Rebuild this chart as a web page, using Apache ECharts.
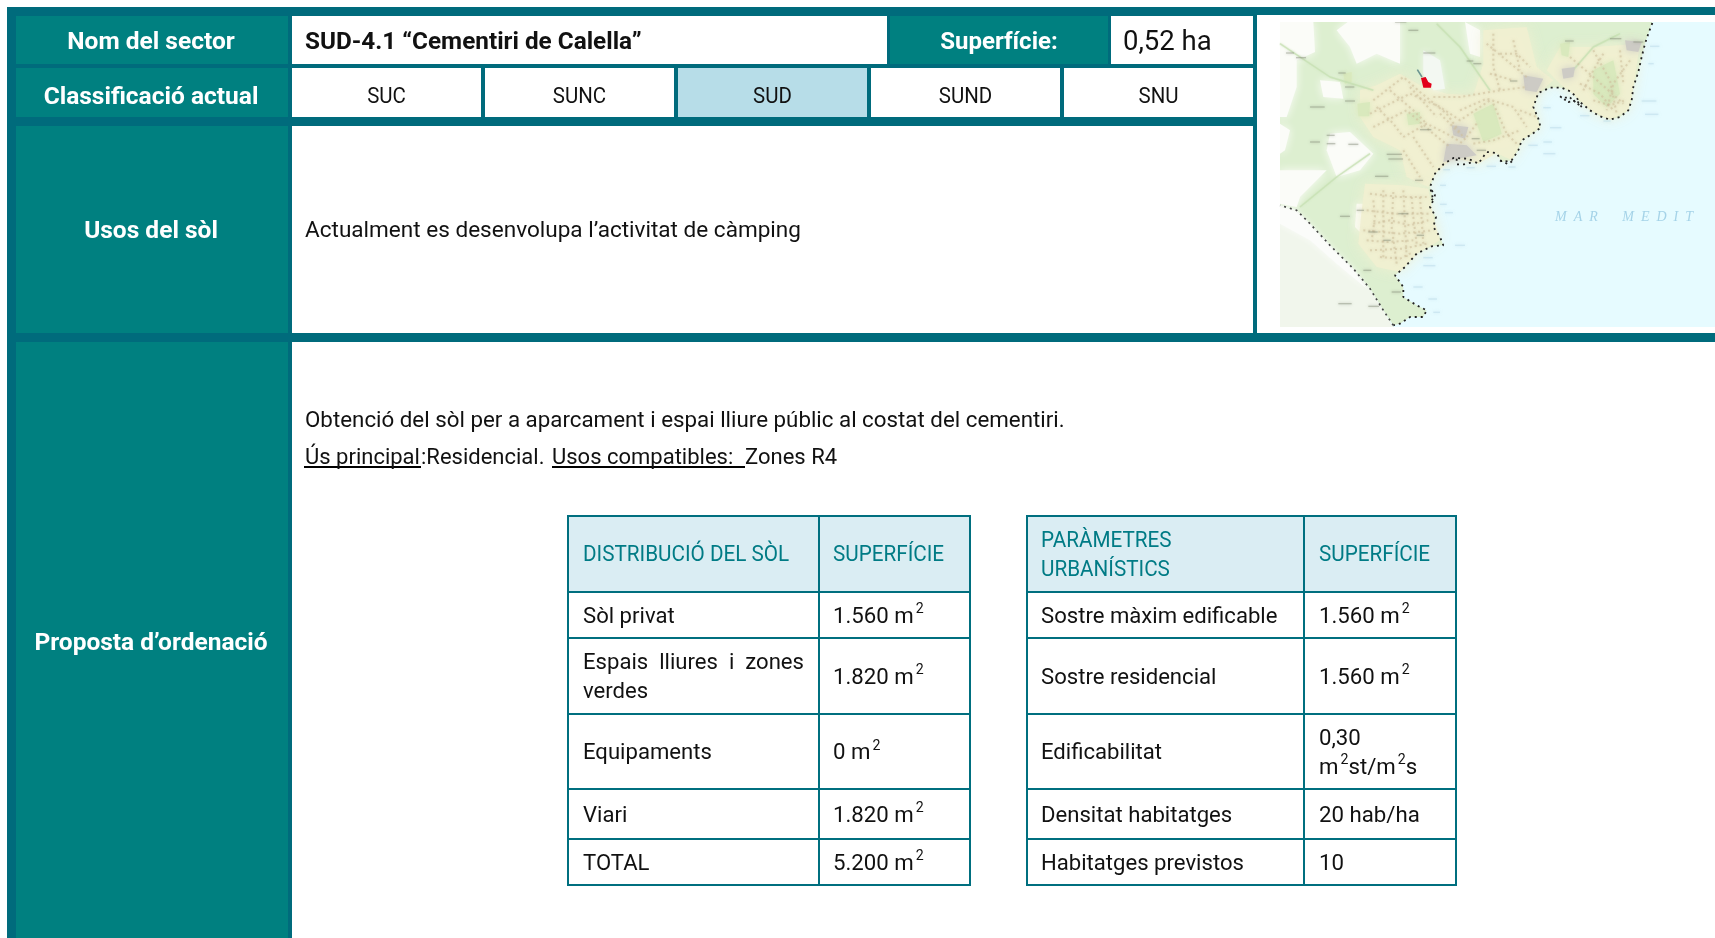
<!DOCTYPE html>
<html><head><meta charset="utf-8">
<style>html,body{margin:0;padding:0;background:#fff}#c{width:1715px;height:938px}</style>
<script src="https://cdn.jsdelivr.net/npm/echarts@6/dist/echarts.min.js"></script>
</head><body><div id="c"></div>
<script>
// ---------- content ----------
const sectorLabels = ['Nom del sector', 'Classificació actual', 'Usos del sòl', 'Proposta d’ordenació'];
const sectorName = 'SUD-4.1 “Cementiri de Calella”';
const areaLabel = 'Superfície:';
const areaValue = '0,52 ha';
const classes = ['SUC', 'SUNC', 'SUD', 'SUND', 'SNU'];
const activeClass = 'SUD';
const currentUse = 'Actualment es desenvolupa l’activitat de càmping';
const proposalLine = 'Obtenció del sòl per a aparcament i espai lliure públic al costat del cementiri.';
const proposalParts = ['Ús principal', ':Residencial. ', 'Usos compatibles:  ', 'Zones R4'];
const distHeader = ['DISTRIBUCIÓ DEL SÒL', 'SUPERFÍCIE'];
const distNames = ['Sòl privat', 'Espais  lliures  i  zones\nverdes', 'Equipaments', 'Viari', 'TOTAL'];
const distValues = ['1.560 m{sup|2}', '1.820 m{sup|2}', '0 m{sup|2}', '1.820 m{sup|2}', '5.200 m{sup|2}'];
const paramHeader = ['PARÀMETRES\nURBANÍSTICS', 'SUPERFÍCIE'];
const paramNames = ['Sostre màxim edificable', 'Sostre residencial', 'Edificabilitat', 'Densitat habitatges', 'Habitatges previstos'];
const paramValues = ['1.560 m{sup|2}', '1.560 m{sup|2}', '0,30\nm{sup|2}st/m{sup|2}s', '20 hab/ha', '10'];

// ---------- map outlines (map units) ----------
const coast = [[1177,38],[1165,70],[1155,100],[1145,140],[1135,185],[1120,230],[1115,270],[1105,300],[1080,320],[1050,328],[1020,318],[990,300],[960,275],[935,245],[905,232],[870,232],[835,248],[820,290],[835,325],[842,352],[815,372],[785,390],[775,420],[755,450],[725,455],[710,428],[680,425],[655,460],[625,445],[580,443],[550,462],[525,490],[510,530],[520,570],[510,590],[528,620],[520,650],[540,680],[550,705],[515,708],[470,730],[435,770],[405,795],[430,830],[430,860],[470,885],[500,900],[490,920],[450,920],[420,940],[400,945]];
const boundary = [[400,945],[370,900],[330,835],[280,775],[210,705],[150,640],[110,600],[60,585]];
const islets = [[900,258],[925,275],[950,270],[965,290],[930,262],[905,262]];
const coves = [[590,445],[590,462],[612,462],[640,455]];
const coves2 = [[720,450],[745,462],[765,445]];
const coves3 = [[515,540],[525,555],[512,575]];
const urbanNorth = [[300,240],[350,225],[420,190],[480,225],[560,250],[640,255],[670,160],[670,60],[800,50],[830,170],[880,210],[835,248],[820,290],[840,350],[785,390],[755,450],[710,428],[655,460],[580,443],[525,490],[505,530],[440,500],[420,420],[340,380],[300,320]];
const urbanSouth = [[315,520],[430,525],[505,535],[520,620],[540,690],[470,730],[420,785],[350,770],[295,700],[305,600]];
const urbanEast = [[900,110],[1000,110],[1140,100],[1120,230],[1105,300],[1050,328],[990,300],[950,260],[900,220],[860,180]];
const parkA = [[640,310],[700,280],[725,370],[670,395]];
const parkB = [[292,280],[330,275],[328,318],[295,318]];
const parkC = [[440,310],[480,305],[480,340],[445,345]];
const parkD = [[900,100],[930,95],[925,140],[905,135]];
const parkE = [[250,190],[275,185],[275,215],[255,220]];
const parkF = [[1000,180],[1060,150],[1080,250],[1040,290],[1000,250]];
const clearings = [
  [[60,35],[160,35],[165,125],[110,150],[110,230],[80,320],[60,320]],
  [[230,60],[270,30],[420,30],[420,160],[350,130],[290,160],[270,110]],
  [[180,210],[240,215],[250,265],[190,260]],
  [[210,370],[270,365],[340,430],[300,480],[230,500],[200,420]],
  [[615,35],[660,60],[660,140],[630,130]],
  [[60,340],[90,360],[75,420],[60,430]],
  [[60,480],[200,480],[120,560],[110,590],[60,580]],
  [[290,580],[310,580],[305,670],[285,650]]
];
const paleArea = [[490,120],[540,150],[555,235],[520,240],[490,190]];
const towns = [
  [[560,400],[620,405],[650,435],[590,445],[550,455]],
  [[790,195],[850,205],[830,245],[795,240]],
  [[1095,90],[1145,95],[1135,125],[1100,120]],
  [[575,345],[625,350],[615,385],[580,375]],
  [[905,175],[945,170],[940,200],[910,205]]
];
const streets = [
  [[340,270],[430,200],[480,245],[560,310],[620,395]],[[330,310],[450,250],[540,290],[600,330],[690,270]],
  [[340,350],[440,300],[520,370],[570,410]],[[430,380],[500,340],[560,370],[610,400]],[[600,300],[680,265],[760,290],[800,350]],
  [[700,280],[740,370],[770,400]],[[640,400],[700,390],[780,360]],[[520,260],[600,260],[720,240],[800,230]],
  [[680,100],[740,150],[800,200]],[[700,70],[700,170],[720,240]],[[760,90],[780,180]],
  [[330,550],[420,560],[500,560]],[[320,600],[400,610],[510,610]],[[310,660],[420,670],[520,660]],[[330,720],[430,715],[500,700]],
  [[370,540],[370,750]],[[430,540],[440,740]],[[480,560],[490,700]],
  [[930,140],[1000,200],[1090,280]],[[1000,120],[1050,210],[1070,310]],[[1080,120],[1090,220]],[[960,220],[1020,250],[1060,300]],
  [[430,420],[480,500]],[[460,380],[520,470]],
  [[350,290],[400,340],[430,380]],[[390,240],[460,300],[500,340]],[[450,230],[530,320]],[[540,310],[600,370]],
  [[340,570],[345,620],[335,690]],[[400,545],[395,650],[410,760]],[[455,560],[460,620],[470,700]],
  [[340,640],[390,630],[450,645],[505,630]],[[320,690],[380,695],[460,690]],[[360,740],[420,745],[460,725]],
  [[1030,130],[1000,180],[970,240]],[[1110,150],[1060,220],[1040,300]],[[1000,270],[1050,285],[1095,270]],
  [[720,130],[770,130],[810,170]],[[690,190],[760,210]],[[780,300],[830,320]],[[650,340],[620,380]]
];
const greenRoads = [[[530,40],[600,110],[690,240]],[[120,590],[230,500],[330,430]],[[930,190],[1000,110],[1080,70]],[[60,100],[210,200],[340,240]]];
const mapMarks = [[78,128,24],[108,142,30],[235,188,22],[255,230,28],[255,272,30],[150,290,44],[200,375,24],[150,395,30],[200,400,26],[265,402,30],[380,432,46],[385,446,44],[480,358,34],[635,385,24],[650,420,28],[640,160,24],[620,152,20],[490,128,36],[405,35,34],[445,60,30],[750,212,22],[915,92,26],[1050,85,34],[1120,95,30],[345,498,40],[465,510,24],[240,618,30],[290,600,22],[370,690,22],[415,610,30],[470,675,22],[325,665,28],[310,780,24],[395,845,28],[235,880,40],[325,888,32]];
const seaMarks = [[850,292,22],[870,352,34],[850,395,26],[805,405,28],[850,430,36],[1145,272,44],[1155,312,40],[960,316,28],[1030,332,22],[680,468,28],[620,472,24],[745,470,22],[550,478,20],[540,525,18],[540,582,20],[555,607,24],[585,705,30],[490,742,28],[490,766,36],[460,830,28],[505,866,26],[520,906,20],[1170,108,28],[1165,160,16]];
const redPlot = [[483,203],[497,200],[505,215],[515,220],[513,232],[490,232]];
const cemeteryRoad = [[472,178],[486,200]];
const mapSeaName = 'M  A  R       M  E  D  I  T';

// ---------- page layout (pixels) ----------
const xHead = [14, 288], xMain = [292, 1253], xPage = 1715;
const headFill = [16, 288];
const rowTop = [16, 68, 126, 342], rowBottom = [64, 117, 333, 938];
const xSplit = [[292, 887], [890, 1108], [1111, 1253]];
const xClass = [[292,481],[485,674],[678,867],[871,1060],[1064,1253]];
const tableRows = [516, 592, 638, 714, 789, 839, 885];
const tableA = [568, 819, 970], tableB = [1027, 1304, 1456];
const textA = [583, 833], textB = [1041, 1319];
const headY = [43, 97.5, 232, 644];

const C = {band:'#006b7c', head:'#008080', white:'#ffffff', active:'#b7dde8', thead:'#daedf3', line:'#006f7f', theadText:'#007b85', text:'#111111'};
const FF = 'Roboto, sans-serif';

// ---------- build rectangles & texts ----------
const rects = [], labels = [], rules = [];
rects.push([7, 7, xPage, 938, C.band]);
rowTop.forEach((t, i) => rects.push([headFill[0], t, headFill[1], rowBottom[i], C.head]));
rects.push([xSplit[0][0], rowTop[0], xSplit[0][1], rowBottom[0], C.white]);
rects.push([xSplit[1][0], rowTop[0], xSplit[1][1], rowBottom[0], C.head]);
rects.push([xSplit[2][0], rowTop[0], xSplit[2][1], rowBottom[0], C.white]);
classes.forEach((c, i) => rects.push([xClass[i][0], rowTop[1], xClass[i][1], rowBottom[1], c === activeClass ? C.active : C.white]));
rects.push([xMain[0], rowTop[2], xMain[1], rowBottom[2], C.white]);
rects.push([xMain[0], rowTop[3], xPage, rowBottom[3], C.white]);
rects.push([1257, rowTop[0] - 1, xPage, rowBottom[2], C.white]);

function mid(a, b) { return (a + b) / 2; }
function addText(x, y, text, font, fill, align, scale) { labels.push({x, y, text, font, fill, align: align || 'left', scale: scale || 1}); }
const F = {head:'bold 24.5px ' + FF, name:'bold 24.3px ' + FF, area:'bold 24px ' + FF, body:'22px ' + FF, cls:'22px ' + FF, value:'27.5px ' + FF, th:'22px ' + FF, td:'22px ' + FF};
sectorLabels.forEach((s, i) => addText(mid(xHead[0], xHead[1]), headY[i], s, F.head, C.white, 'center'));
addText(305, 43, sectorName, F.name, C.text);
addText(mid(xSplit[1][0], xSplit[1][1]), 43, areaLabel, F.area, C.white, 'center');
addText(1123, 43, areaValue, F.value, C.text);
classes.forEach((c, i) => addText(mid(xClass[i][0], xClass[i][1]), 97, c, F.cls, C.text, 'center', 0.93));
addText(305, 231, currentUse, F.body, C.text, 'left', 1.025);
addText(305, 421, proposalLine, F.body, C.text, 'left', 1.015);
const partX = [305, 421, 552, 745];
proposalParts.forEach((p, i) => addText(partX[i], 458, p, F.body, C.text));
rules.push([304, 467, 421, 467, '#000000', 2], [552, 467, 745, 467, '#000000', 2]);

function addTable(t, tx, header, names, values) {
  rects.push([t[0], tableRows[0], t[2], tableRows[1], C.thead]);
  header.forEach((h, c) => addText(tx[c], mid(tableRows[0], tableRows[1]) + 1.5, h, F.th, C.theadText, 'left', 0.94));
  names.forEach((n, r) => {
    const y = mid(tableRows[r + 1], tableRows[r + 2]) + 2;
    addText(tx[0], y, n, F.td, C.text, 'left', 1.005);
    addText(tx[1], y, values[r], F.td, C.text, 'left', 1.01);
  });
  tableRows.forEach(y => rules.push([t[0], y, t[2], y, C.line, 2]));
  t.forEach(x => rules.push([x, tableRows[0] - 1, x, tableRows[6] + 1, C.line, 2]));
}
addTable(tableA, textA, distHeader, distNames, distValues);
addTable(tableB, textB, paramHeader, paramNames, paramValues);

// ---------- render helpers ----------
const noAxis = {show:false, axisLine:{show:false}, axisTick:{show:false}, axisLabel:{show:false}, splitLine:{show:false}};
function polySeries(name, polys, color, z, blur, opacity) {
  return {type:'custom', name, xAxisIndex:1, yAxisIndex:1, z, silent:true, clip:true,
    data: polys.map((_, i) => [polys[i][0][0], polys[i][0][1], i]),
    renderItem(params, api) {
      const pts = polys[api.value(2)].map(p => api.coord(p));
      return {type:'polygon', shape:{points:pts}, style:{fill:color, opacity: opacity === undefined ? 1 : opacity, shadowBlur: blur || 0, shadowColor: color}};
    }};
}
function mapLine(name, pts, color, width, dash, z, opacity, blur) {
  return {type:'line', name, xAxisIndex:1, yAxisIndex:1, z, silent:true, symbol:'none', data:pts, clip:true,
    lineStyle:{color, width, type:dash, opacity: opacity === undefined ? 1 : opacity, shadowBlur: blur || 0, shadowColor: color}};
}
function markSeries(name, marks, color, z, opacity) {
  return {type:'custom', name, xAxisIndex:1, yAxisIndex:1, z, silent:true, clip:true,
    data: marks.map(m => [m[0], m[1], m[2]]),
    renderItem(params, api) {
      const a = api.coord([api.value(0), api.value(1)]), b = api.coord([api.value(0) + api.value(2), api.value(1)]);
      return {type:'line', shape:{x1:a[0],y1:a[1],x2:b[0],y2:b[1]}, style:{stroke:color, lineWidth:1.3, opacity, shadowBlur:3, shadowColor:color}};
    }};
}
const option = {
  animation:false, backgroundColor:'#ffffff', tooltip:{show:false}, legend:{show:false},
  grid:[{left:0, top:0, width:1715, height:938}, {left:1280, top:22, width:435, height:305}],
  xAxis:[Object.assign({type:'value', min:0, max:1715, gridIndex:0}, noAxis), Object.assign({type:'value', min:60, max:1365, gridIndex:1}, noAxis)],
  yAxis:[Object.assign({type:'value', min:0, max:938, inverse:true, gridIndex:0}, noAxis), Object.assign({type:'value', min:35, max:950, inverse:true, gridIndex:1}, noAxis)],
  series:[
    {type:'custom', name:'cells', z:1, silent:true, clip:false, data:rects.map((r,i)=>[r[0],r[1],i]),
      renderItem(p, api){ const r = rects[api.value(2)]; const a = api.coord([r[0],r[1]]), b = api.coord([r[2],r[3]]);
        return {type:'rect', shape:{x:a[0],y:a[1],width:b[0]-a[0],height:b[1]-a[1]}, style:{fill:r[4]}}; }},
    {type:'custom', name:'rules', z:2, silent:true, clip:false, data:rules.map((r,i)=>[r[0],r[1],i]),
      renderItem(p, api){ const r = rules[api.value(2)]; const a = api.coord([r[0],r[1]]), b = api.coord([r[2],r[3]]);
        return {type:'line', shape:{x1:a[0],y1:a[1],x2:b[0],y2:b[1]}, style:{stroke:r[4], lineWidth:r[5]}}; }},
    {type:'custom', name:'labels', z:8, silent:true, clip:false, data:labels.map((l,i)=>[l.x,l.y,i]),
      renderItem(p, api){ const l = labels[api.value(2)]; const a = api.coord([l.x,l.y]);
        return {type:'text', x:a[0], y:a[1], scaleX:l.scale, style:{text:l.text, font:l.font, fill:l.fill, align:l.align, verticalAlign:'middle', lineHeight:29,
          rich:{sup:{font:'14px ' + FF, fill:l.fill, verticalAlign:'top', lineHeight:22, padding:[0,0,0,2]}}}}; }},
    // map layers
    polySeries('sea', [[[60,35],[1365,35],[1365,950],[60,950]]], '#e6fbff', 3),
    polySeries('land', [[[60,35],[1177,35]].concat(coast.slice(1)).concat(boundary.slice(1))], '#ddefd0', 3),
    polySeries('outside', [[[60,585],[110,600],[150,640],[210,705],[280,775],[330,835],[370,900],[400,950],[60,950]]], '#f1f6ec', 3),
    polySeries('outsideWhite', [[[60,590],[110,605],[150,645],[210,710],[280,780],[320,835],[230,760],[150,690],[60,640]]], '#fbfcfa', 3, 6),
    polySeries('clearings', clearings, '#fbfcf8', 3, 8),
    polySeries('urban', [urbanNorth, urbanSouth, urbanEast], '#f1efd0', 3, 14, 0.9),
    polySeries('paleArea', [paleArea], '#f3f8f2', 3, 6),
    polySeries('parks', [parkA, parkB, parkC, parkD, parkE, parkF], '#d9e9bd', 3, 6),
    polySeries('towns', towns, '#cdcbc5', 4, 8),
    polySeries('plot', [redPlot], '#e2001a', 6)
  ].concat(streets.map((s, i) => mapLine('street' + i, s, '#cdbf9c', 2, [2, 3], 4, 0.55, 3)))
   .concat(greenRoads.map((s, i) => mapLine('road' + i, s, '#c6dfb2', 1.5, 'solid', 3, 0.7, 2)))
   .concat([
    markSeries('mapMarks', mapMarks, '#7d8470', 5, 0.4),
    markSeries('seaMarks', seaMarks, '#bcdcea', 5, 0.5),
    mapLine('cemeteryRoad', cemeteryRoad, '#6b9590', 1.6, 'solid', 5),
    mapLine('coast', coast, '#222222', 1.8, [2, 4], 5),
    mapLine('islets', islets, '#222222', 1.8, [2, 3], 5),
    mapLine('coves', coves, '#222222', 1.8, [2, 4], 5),
    mapLine('coves2', coves2, '#222222', 1.8, [2, 4], 5),
    mapLine('coves3', coves3, '#222222', 1.8, [2, 3], 5),
    mapLine('boundary', boundary, '#444444', 1.7, [2, 4], 5),
    {type:'custom', name:'seaName', xAxisIndex:1, yAxisIndex:1, z:6, silent:true, clip:false, data:[[885,622,0]],
      renderItem(p, api){ const a = api.coord([api.value(0), api.value(1)]);
        return {type:'text', x:a[0], y:a[1], style:{text:mapSeaName, font:'italic 14px "Liberation Serif", serif', fill:'#a5d3e8', align:'left', verticalAlign:'middle'}}; }}
  ])
};
const chart = echarts.init(document.getElementById('c'), null, {renderer:'canvas'});
chart.setOption(option);
</script></body></html>
